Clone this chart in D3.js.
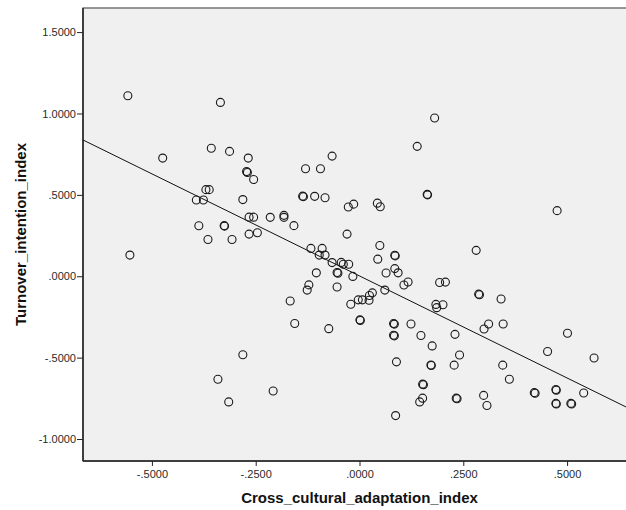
<!DOCTYPE html>
<html>

<head>
    <meta charset="utf-8">
    <style>
        body {
            margin: 0;
            background: #ffffff;
        }

        svg {
            display: block;
            font-family: 'Liberation Sans', Arial, sans-serif;
        }

        .tick text {
            font-size: 11px;
            fill: #2a2a2a;
        }

        .tick line {
            stroke: #222;
        }

        .domain {
            display: none;
        }

        .axis-title {
            font-size: 15px;
            font-weight: bold;
            fill: #111;
        }
    </style>
</head>

<body>
    <svg width="626" height="510"></svg>
</body>

<script src="https://d3js.org/d3.v7.min.js"></script>

<script>
    // Cross_cultural_adaptation_index (x) and Turnover_intention_index (y), one pair per case
    let adaptation = [
        -0.558, -0.335, -0.474, -0.357, -0.313, -0.268, -0.272, -0.270, -0.255, -0.370,
        -0.362, -0.393, -0.376, -0.281, -0.387, -0.326, -0.325, -0.365, -0.307, -0.553,
        -0.266, -0.246, -0.266, -0.255, -0.215, -0.182, -0.182, -0.158, -0.137, -0.135,
        -0.108, -0.083, -0.130, -0.094, -0.066, -0.027, -0.014, 0.043, 0.050, 0.163,
        0.164, 0.181, 0.139, 0.476, -0.030, 0.049, 0.281, 0.085, 0.086, -0.117,
        -0.090, -0.097, -0.083, 0.044, -0.066, -0.044, -0.039, -0.026, -0.104, -0.054,
        -0.052, -0.016, -0.122, -0.126, -0.054, -0.167, -0.156, -0.074, 0.001, 0.002,
        -0.021, -0.003, 0.007, 0.023, 0.024, 0.031, 0.061, 0.064, 0.085, 0.093,
        0.107, 0.117, 0.193, 0.207, 0.184, 0.186, 0.201, 0.287, 0.289, 0.341,
        0.082, 0.084, 0.124, 0.082, 0.084, 0.148, 0.230, 0.300, 0.311, 0.346,
        0.175, 0.241, 0.089, 0.172, 0.173, 0.228, 0.345, 0.361, 0.152, 0.154,
        0.152, 0.145, 0.233, 0.235, 0.299, 0.307, 0.087, 0.453, 0.501, 0.565,
        0.421, 0.423, 0.473, 0.474, 0.473, 0.474, 0.509, 0.511, 0.540, -0.281,
        -0.341, -0.315, -0.208
    ]

    let turnover = [
        1.109, 1.068, 0.726, 0.786, 0.767, 0.726, 0.643, 0.637, 0.594, 0.532,
        0.532, 0.468, 0.468, 0.471, 0.310, 0.311, 0.308, 0.226, 0.226, 0.130,
        0.259, 0.267, 0.363, 0.363, 0.362, 0.374, 0.362, 0.311, 0.492, 0.489,
        0.491, 0.482, 0.660, 0.660, 0.738, 0.425, 0.443, 0.449, 0.427, 0.503,
        0.500, 0.972, 0.798, 0.403, 0.259, 0.189, 0.159, 0.129, 0.125, 0.171,
        0.171, 0.130, 0.130, 0.105, 0.084, 0.085, 0.074, 0.074, 0.021, 0.023,
        0.019, -0.001, -0.053, -0.085, -0.066, -0.152, -0.290, -0.322, -0.268, -0.272,
        -0.172, -0.145, -0.145, -0.147, -0.118, -0.102, -0.085, 0.020, 0.047, 0.021,
        -0.054, -0.035, -0.038, -0.036, -0.173, -0.193, -0.175, -0.110, -0.114, -0.140,
        -0.291, -0.294, -0.293, -0.362, -0.366, -0.364, -0.357, -0.324, -0.293, -0.293,
        -0.428, -0.484, -0.526, -0.545, -0.548, -0.546, -0.546, -0.633, -0.663, -0.666,
        -0.749, -0.772, -0.749, -0.753, -0.732, -0.794, -0.856, -0.462, -0.350, -0.502,
        -0.715, -0.719, -0.696, -0.700, -0.781, -0.785, -0.781, -0.785, -0.717, -0.482,
        -0.633, -0.772, -0.705
    ]

    // linear fit line (intercept, slope)
    let fitIntercept = 0.002
    let fitSlope = -1.254

    let xTicks = [-0.5, -0.25, 0, 0.25, 0.5]
    let xTickLabels = ["-.5000", "-.2500", ".0000", ".2500", ".5000"]
    let yTicks = [-1, -0.5, 0, 0.5, 1, 1.5]
    let yTickLabels = ["-1.0000", "-.5000", ".0000", ".5000", "1.0000", "1.5000"]

    let xDomain = [-0.666, 0.666]
    let yDomain = [-1.135, 1.648]

    let svg = d3.select("svg")

    // plot region runs a little past the right edge of the window, like the cropped original
    let plot = { left: 83, right: 636, top: 8, bottom: 461 }

    let x = d3.scaleLinear()
        .domain(xDomain)
        .range([plot.left, plot.right])

    let y = d3.scaleLinear()
        .domain(yDomain)
        .range([plot.bottom, plot.top])

    svg.append("clipPath")
        .attr("id", "plot-clip")
        .append("rect")
        .attr("x", plot.left)
        .attr("y", plot.top)
        .attr("width", plot.right - plot.left)
        .attr("height", plot.bottom - plot.top)

    svg.append("rect")
        .attr("x", plot.left)
        .attr("y", plot.top)
        .attr("width", plot.right - plot.left)
        .attr("height", plot.bottom - plot.top)
        .style("fill", "#f0f0f0")
        .style("stroke", "#555")
        .style("stroke-width", 1.2)

    let xAxis = d3.axisBottom(x)
        .tickValues(xTicks)
        .tickFormat((d, i) => xTickLabels[i])
        .tickSize(5)
        .tickPadding(4)

    let yAxis = d3.axisLeft(y)
        .tickValues(yTicks)
        .tickFormat((d, i) => yTickLabels[i])
        .tickSize(6)
        .tickPadding(1)

    svg.append("g")
        .attr("class", "x axis")
        .attr("transform", `translate(0, ${plot.bottom})`)
        .call(xAxis)
        .selectAll("text")
        .style("font-family", "'Liberation Sans', Arial, sans-serif")

    svg.append("g")
        .attr("class", "y axis")
        .attr("transform", `translate(${plot.left}, 0)`)
        .call(yAxis)
        .selectAll("text")
        .style("font-family", "'Liberation Sans', Arial, sans-serif")

    // axis lines, drawn a bit heavier than the frame
    svg.append("line")
        .attr("x1", plot.left).attr("x2", plot.left)
        .attr("y1", plot.top).attr("y2", plot.bottom)
        .style("stroke", "#222")
        .style("stroke-width", 1.5)

    svg.append("line")
        .attr("x1", plot.left).attr("x2", plot.right)
        .attr("y1", plot.bottom).attr("y2", plot.bottom)
        .style("stroke", "#222")
        .style("stroke-width", 1.5)

    let points = adaptation.map((d, i) => ({ x: d, y: turnover[i] }))

    let marks = svg.append("g").attr("clip-path", "url(#plot-clip)")

    marks.append("line")
        .attr("x1", x(xDomain[0]))
        .attr("y1", y(fitIntercept + fitSlope * xDomain[0]))
        .attr("x2", x(xDomain[1]))
        .attr("y2", y(fitIntercept + fitSlope * xDomain[1]))
        .style("stroke", "#111")
        .style("stroke-width", 1)

    marks.selectAll(".pt")
        .data(points)
        .join("circle")
        .attr("class", "pt")
        .attr("cx", d => x(d.x))
        .attr("cy", d => y(d.y))
        .attr("r", 4)
        .style("fill", "none")
        .style("stroke", "#1a1a1a")
        .style("stroke-width", 1.1)

    svg.append("text")
        .attr("class", "axis-title")
        .attr("x", (plot.left + plot.right) / 2)
        .attr("y", 503)
        .attr("text-anchor", "middle")
        .text("Cross_cultural_adaptation_index")

    svg.append("text")
        .attr("class", "axis-title")
        .attr("transform", `translate(26, ${(plot.top + plot.bottom) / 2}) rotate(-90)`)
        .attr("text-anchor", "middle")
        .text("Turnover_intention_index")
</script>

</html>
